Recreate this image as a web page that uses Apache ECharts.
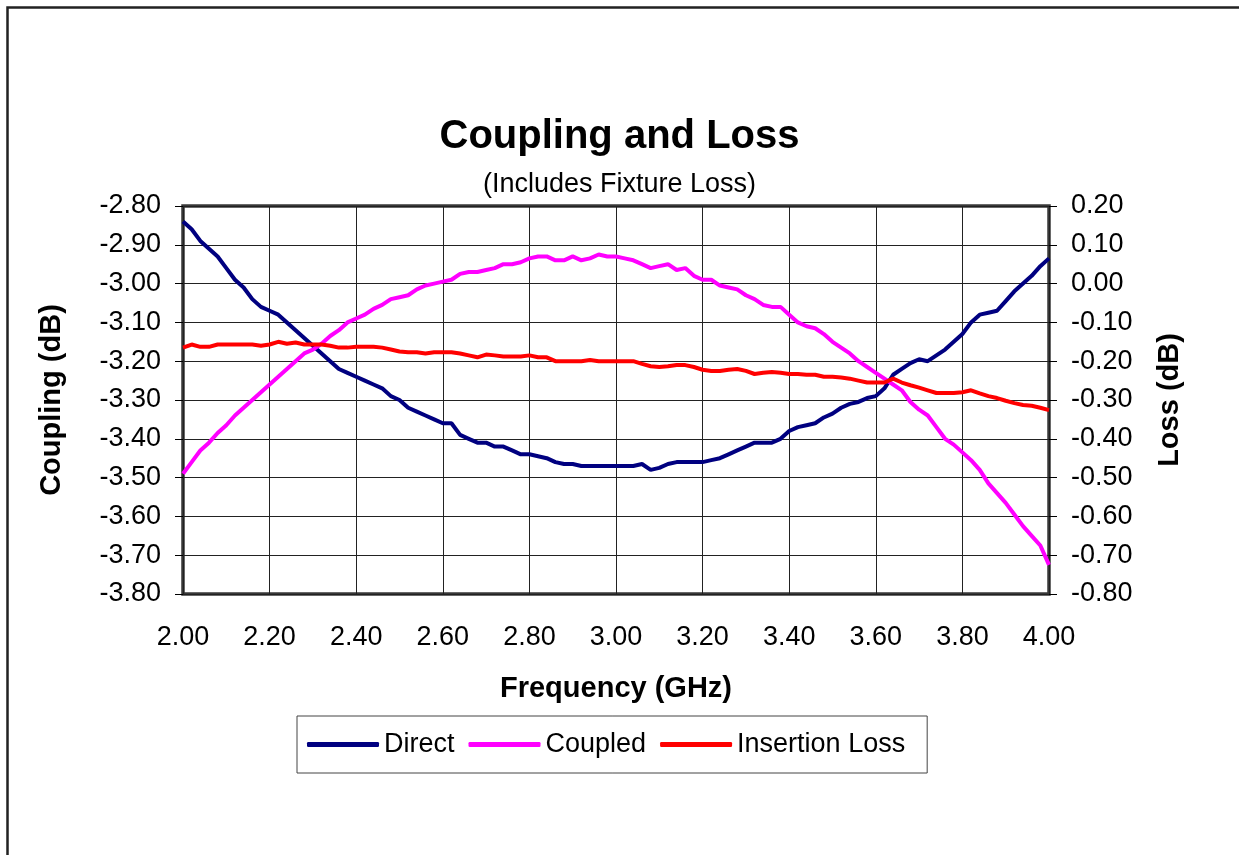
<!DOCTYPE html>
<html>
<head>
<meta charset="utf-8">
<script src="https://cdn.jsdelivr.net/npm/echarts@6/dist/echarts.min.js"></script>
<style>
html,body{margin:0;padding:0;background:#fff;}
#main{width:1239px;height:855px;}
</style>
</head>
<body>
<div id="main"></div>
<script>
// frequency points (GHz)
var freq = [2.00,2.02,2.04,2.06,2.08,2.10,2.12,2.14,2.16,2.18,
  2.20,2.22,2.24,2.26,2.28,2.30,2.32,2.34,2.36,2.38,
  2.40,2.42,2.44,2.46,2.48,2.50,2.52,2.54,2.56,2.58,
  2.60,2.62,2.64,2.66,2.68,2.70,2.72,2.74,2.76,2.78,
  2.80,2.82,2.84,2.86,2.88,2.90,2.92,2.94,2.96,2.98,
  3.00,3.02,3.04,3.06,3.08,3.10,3.12,3.14,3.16,3.18,
  3.20,3.22,3.24,3.26,3.28,3.30,3.32,3.34,3.36,3.38,
  3.40,3.42,3.44,3.46,3.48,3.50,3.52,3.54,3.56,3.58,
  3.60,3.62,3.64,3.66,3.68,3.70,3.72,3.74,3.76,3.78,
  3.80,3.82,3.84,3.86,3.88,3.90,3.92,3.94,3.96,3.98,4.00];

// Direct (dB, left axis)
var direct = [-2.84,-2.86,-2.89,-2.91,-2.93,-2.96,-2.99,-3.01,-3.04,-3.06,
  -3.07,-3.08,-3.10,-3.12,-3.14,-3.16,-3.18,-3.20,-3.22,-3.23,
  -3.24,-3.25,-3.26,-3.27,-3.29,-3.30,-3.32,-3.33,-3.34,-3.35,
  -3.36,-3.36,-3.39,-3.40,-3.41,-3.41,-3.42,-3.42,-3.43,-3.44,
  -3.44,-3.445,-3.45,-3.46,-3.465,-3.465,-3.47,-3.47,-3.47,-3.47,
  -3.47,-3.47,-3.47,-3.465,-3.48,-3.475,-3.465,-3.46,-3.46,-3.46,
  -3.46,-3.455,-3.45,-3.44,-3.43,-3.42,-3.41,-3.41,-3.41,-3.40,
  -3.38,-3.37,-3.365,-3.36,-3.345,-3.335,-3.32,-3.31,-3.305,-3.295,
  -3.29,-3.27,-3.235,-3.22,-3.205,-3.195,-3.20,-3.185,-3.17,-3.15,
  -3.13,-3.10,-3.08,-3.075,-3.07,-3.045,-3.02,-3.00,-2.98,-2.955,-2.935];

// Coupled (dB, left axis)
var coupled = [-3.49,-3.46,-3.43,-3.41,-3.385,-3.365,-3.34,-3.32,-3.30,-3.28,
  -3.26,-3.24,-3.22,-3.20,-3.18,-3.17,-3.155,-3.135,-3.12,-3.10,
  -3.09,-3.08,-3.065,-3.055,-3.04,-3.035,-3.03,-3.015,-3.005,-3.00,
  -2.995,-2.99,-2.975,-2.97,-2.97,-2.965,-2.96,-2.95,-2.95,-2.945,
  -2.935,-2.93,-2.93,-2.94,-2.94,-2.93,-2.94,-2.935,-2.925,-2.93,
  -2.93,-2.935,-2.94,-2.95,-2.96,-2.955,-2.95,-2.965,-2.96,-2.98,
  -2.99,-2.99,-3.005,-3.01,-3.015,-3.03,-3.04,-3.055,-3.06,-3.06,
  -3.08,-3.10,-3.11,-3.115,-3.13,-3.15,-3.165,-3.18,-3.20,-3.215,
  -3.23,-3.245,-3.26,-3.275,-3.305,-3.325,-3.34,-3.37,-3.40,-3.415,
  -3.435,-3.455,-3.48,-3.515,-3.54,-3.565,-3.595,-3.625,-3.65,-3.675,-3.725];

// Insertion Loss (dB, right axis)
var insertion = [-0.165,-0.157,-0.163,-0.163,-0.157,-0.157,-0.157,-0.157,-0.157,-0.16,
  -0.157,-0.15,-0.155,-0.152,-0.157,-0.157,-0.157,-0.16,-0.165,-0.165,
  -0.163,-0.163,-0.163,-0.165,-0.17,-0.175,-0.177,-0.177,-0.18,-0.177,
  -0.177,-0.177,-0.18,-0.185,-0.19,-0.183,-0.185,-0.188,-0.188,-0.188,
  -0.185,-0.19,-0.19,-0.2,-0.2,-0.2,-0.2,-0.197,-0.2,-0.2,
  -0.2,-0.2,-0.2,-0.207,-0.213,-0.215,-0.213,-0.21,-0.21,-0.215,
  -0.222,-0.225,-0.225,-0.222,-0.22,-0.225,-0.233,-0.23,-0.228,-0.23,
  -0.233,-0.233,-0.235,-0.235,-0.24,-0.24,-0.242,-0.245,-0.25,-0.255,
  -0.255,-0.255,-0.245,-0.255,-0.262,-0.268,-0.275,-0.282,-0.282,-0.282,
  -0.28,-0.275,-0.283,-0.29,-0.295,-0.302,-0.308,-0.313,-0.315,-0.32,-0.326];

var fnt = 'Liberation Sans, Arial, sans-serif';

function pairs(ys) {
  return freq.map(function (f, i) { return [f, ys[i]]; });
}

var myChart = echarts.init(document.getElementById('main'));
myChart.setOption({
  backgroundColor: '#fff',
  animation: false,
  title: [
    {text: 'Coupling and Loss', left: 'center', top: 112,
      textStyle: {fontFamily: fnt, fontSize: 40, fontWeight: 'bold', color: '#000'}},
    {text: '(Includes Fixture Loss)', left: 'center', top: 166,
      textStyle: {fontFamily: fnt, fontSize: 27, fontWeight: 'normal', color: '#000'}}
  ],
  graphic: [{
    type: 'rect', left: 5, top: 5, silent: true,
    shape: {width: 1300, height: 900},
    style: {fill: null, stroke: '#222', lineWidth: 2.5}
  }],
  grid: {left: 183, right: 190, top: 206, bottom: 261, show: true,
    borderColor: '#383838', borderWidth: 3.5, backgroundColor: '#fff'},
  legend: {
    left: 297, top: 716,
    padding: [15, 22, 15, 10],
    itemGap: 14,
    itemWidth: 72, itemHeight: 5,
    icon: 'roundRect',
    borderColor: '#444', borderWidth: 1,
    textStyle: {fontFamily: fnt, fontSize: 27, color: '#000'},
    data: ['Direct', 'Coupled', 'Insertion Loss']
  },
  xAxis: {
    type: 'value', min: 2, max: 4, interval: 0.2,
    name: 'Frequency (GHz)', nameLocation: 'middle', nameGap: 80,
    nameTextStyle: {fontFamily: fnt, fontSize: 29, fontWeight: 'bold', color: '#000'},
    axisLine: {show: false},
    axisTick: {show: false},
    axisLabel: {margin: 30, fontFamily: fnt, fontSize: 27, color: '#000',
      formatter: function (v) { return v.toFixed(2); }},
    splitLine: {show: true, lineStyle: {color: '#222', width: 1}}
  },
  yAxis: [
    {
      type: 'value', min: -3.8, max: -2.8, interval: 0.1,
      name: 'Coupling (dB)', nameLocation: 'middle', nameGap: 117, nameRotate: 90,
      nameTextStyle: {fontFamily: fnt, fontSize: 29, fontWeight: 'bold', color: '#000'},
      axisLine: {show: false},
      axisTick: {show: true, inside: false, length: 8, lineStyle: {color: '#000', width: 1}},
      axisLabel: {margin: 22, fontFamily: fnt, fontSize: 27, color: '#000',
        formatter: function (v) { return v.toFixed(2); }},
      splitLine: {show: true, lineStyle: {color: '#222', width: 1}}
    },
    {
      type: 'value', min: -0.8, max: 0.2, interval: 0.1, position: 'right',
      name: 'Loss (dB)', nameLocation: 'middle', nameGap: 106, nameRotate: 90,
      nameTextStyle: {fontFamily: fnt, fontSize: 29, fontWeight: 'bold', color: '#000'},
      axisLine: {show: false},
      axisTick: {show: true, inside: false, length: 8, lineStyle: {color: '#000', width: 1}},
      axisLabel: {margin: 22, fontFamily: fnt, fontSize: 27, color: '#000',
        formatter: function (v) { return v.toFixed(2); }},
      splitLine: {show: false}
    }
  ],
  series: [
    {name: 'Direct', type: 'line', yAxisIndex: 0, data: pairs(direct),
      showSymbol: false, symbol: 'none', color: '#000080',
      lineStyle: {width: 4, color: '#000080'}},
    {name: 'Coupled', type: 'line', yAxisIndex: 0, data: pairs(coupled),
      showSymbol: false, symbol: 'none', color: '#ff00ff',
      lineStyle: {width: 4, color: '#ff00ff'}},
    {name: 'Insertion Loss', type: 'line', yAxisIndex: 1, data: pairs(insertion),
      showSymbol: false, symbol: 'none', color: '#ff0000',
      lineStyle: {width: 4, color: '#ff0000'}}
  ]
});
</script>
</body>
</html>
